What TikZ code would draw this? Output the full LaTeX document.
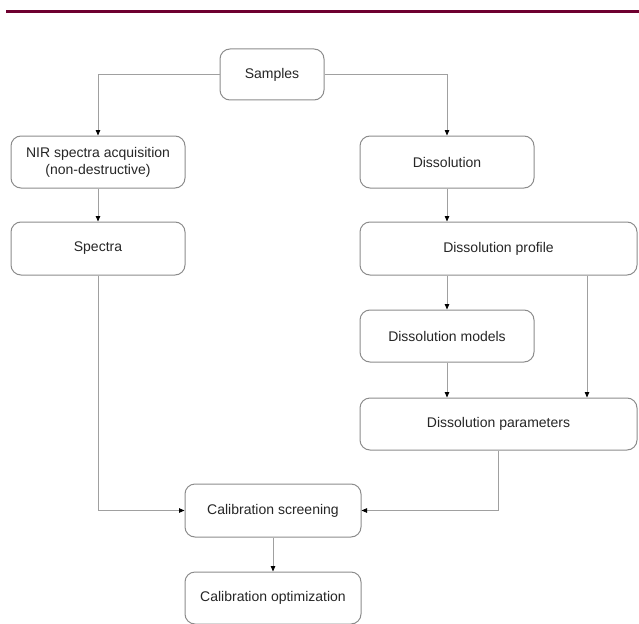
\documentclass[tikz,border=0pt]{standalone}
\usepackage{fontspec}
\setmainfont{Liberation Sans}
\usetikzlibrary{arrows.meta,positioning}
\definecolor{topbar}{HTML}{6E0030}
\definecolor{boxline}{HTML}{8C8C8C}
\definecolor{connline}{HTML}{A0A0A0}
\definecolor{txt}{HTML}{262626}
\begin{document}
\begin{tikzpicture}[x=1pt,y=-1pt,
  box/.style={draw=boxline,line width=1pt,rounded corners=10pt,fill=white,
    inner sep=2pt,align=center,text=txt,font=\fontsize{14}{17}\selectfont},
  conn/.style={draw=connline,line width=0.8pt,
    -{Triangle[length=5.5pt,width=4.5pt,color=black]}}]
\useasboundingbox (0,0) rectangle (639,623);
\fill[topbar] (6,10) rectangle (639,13.2);
\node[box,minimum width=104pt,minimum height=51pt] (samples) at (272,74.5) {Samples};
\node[box,minimum width=174pt,minimum height=52pt] (nir) at (98,162) {NIR spectra acquisition\\(non-destructive)};
\node[box,minimum width=174pt,minimum height=53pt] (spectra) at (98,248.5) {Spectra};
\node[box,minimum width=174pt,minimum height=52pt] (diss) at (447,162) {Dissolution};
\node[box,minimum width=277pt,minimum height=53pt] (dprof) at (498.5,248.5) {Dissolution profile};
\node[box,minimum width=174pt,minimum height=52pt] (dmod) at (447,336) {Dissolution models};
\node[box,minimum width=277pt,minimum height=52pt] (dpar) at (498.5,424) {Dissolution parameters};
\node[box,minimum width=176pt,minimum height=53pt] (cscr) at (273,510.5) {Calibration screening};
\node[box,minimum width=176pt,minimum height=52pt] (copt) at (273,598) {Calibration optimization};
\coordinate (px) at (587,0);
\draw[conn] (samples.west) -| (nir.north);
\draw[conn] (samples.east) -| (diss.north);
\draw[conn] (nir.south) -- (spectra.north);
\draw[conn] (diss.south) -- (diss.south |- dprof.north);
\draw[conn] (dprof.south -| dmod.north) -- (dmod.north);
\draw[conn] (dprof.south -| px) -- (dpar.north -| px);
\draw[conn] (dmod.south) -- (dmod.south |- dpar.north);
\draw[conn] (spectra.south) |- (cscr.west);
\draw[conn] (dpar.south) |- (cscr.east);
\draw[conn] (cscr.south) -- (copt.north);
\end{tikzpicture}
\end{document}
